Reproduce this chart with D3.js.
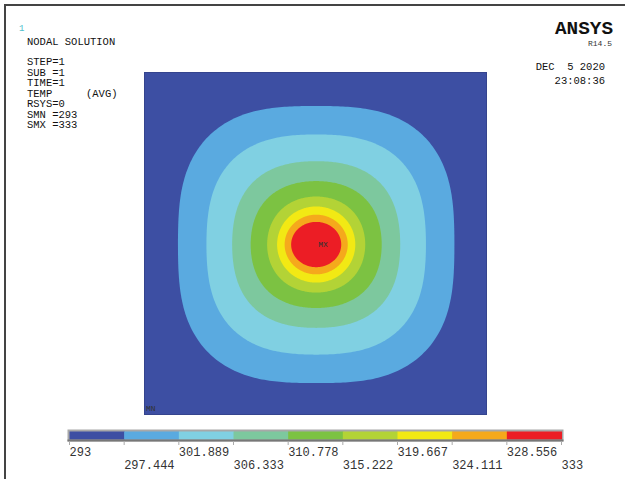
<!DOCTYPE html>
<html>
<head>
<meta charset="utf-8">
<script src="https://cdn.jsdelivr.net/npm/d3@7"></script>
<style>
  body { margin: 0; background: #fff; }
  text { font-family: "Liberation Mono", "DejaVu Sans Mono", monospace; }
</style>
</head>
<body>
<svg id="chart" width="625" height="479"></svg>
<script>
// contour levels (legend) and band colours
const levels = [293, 297.444, 301.889, 306.333, 310.778, 315.222, 319.667, 324.111, 328.556, 333];
const bandColors = ["#3d4fa3", "#5aaae0", "#80d0e2", "#7dc89e", "#7cc242", "#b3d336", "#f2e914", "#f5a91c", "#ec1d25"];

// contour shapes (plate units, plate side = 1)
// one entry per inner level 297.444 .. 328.556
const halfWidth  = [0.403, 0.320, 0.245, 0.191, 0.143, 0.114, 0.092, 0.073];
const halfHeight = [0.404, 0.321, 0.243, 0.185, 0.140, 0.111, 0.087, 0.066];
// distance along the diagonal / half width
const diagRatio  = [0.78, 0.765, 0.75, 0.735, 0.72, 0.71, 0.707, 0.707];
const source = { x: 0.502, y: 0.503 };

const infoLines = ["STEP=1", "SUB =1", "TIME=1", "TEMP", "RSYS=0", "SMN =293", "SMX =333"];

var svg = d3.select("#chart");
svg.append("rect").attr("width", 625).attr("height", 479).attr("fill", "#fff");

// frame
svg.append("line").attr("x1", 4).attr("x2", 625).attr("y1", 5).attr("y2", 5)
    .attr("stroke", "#444").attr("stroke-width", 2);
svg.append("line").attr("x1", 5).attr("x2", 5).attr("y1", 4).attr("y2", 479)
    .attr("stroke", "#444").attr("stroke-width", 2);

// plate
var x = d3.scaleLinear().domain([0, 1]).range([144, 487]);
var y = d3.scaleLinear().domain([0, 1]).range([72, 415]);

svg.append("rect")
    .attr("x", x(0)).attr("y", y(0))
    .attr("width", x(1) - x(0)).attr("height", y(1) - y(0))
    .attr("fill", bandColors[0]);

var line = d3.line()
    .x(function(d) { return x(d[0]); })
    .y(function(d) { return y(d[1]); })
    .curve(d3.curveLinearClosed);

// polar blend between the axis radius and the diagonal radius
function contourPoints(i) {
    var r45 = diagRatio[i] * Math.SQRT2;
    return d3.range(0, 360, 1).map(function(a) {
        var t = a * Math.PI / 180;
        var c4 = Math.cos(4 * t);
        var f = (1 + c4) / 2 + r45 * (1 - c4) / 2;
        return [
            source.x + halfWidth[i] * f * Math.cos(t),
            source.y + halfHeight[i] * f * Math.sin(t)
        ];
    });
}

svg.append("g").selectAll("path")
    .data(d3.range(halfWidth.length))
    .join("path")
    .attr("d", function(i) { return line(contourPoints(i)); })
    .attr("fill", function(i) { return bandColors[i + 1]; });

svg.append("rect")
    .attr("x", x(0) + 0.5).attr("y", y(0) + 0.5)
    .attr("width", x(1) - x(0) - 1).attr("height", y(1) - y(0) - 1)
    .attr("fill", "none").attr("stroke", "#2e3a78").attr("stroke-width", 1)
    .attr("stroke-dasharray", "1,1");

svg.append("text").attr("x", x(source.x) + 2).attr("y", y(source.y) + 2)
    .attr("font-family", "Liberation Serif").attr("font-size", 8).attr("fill", "#333")
    .text("MX");
svg.append("text").attr("x", x(0) + 2).attr("y", y(1) - 4)
    .attr("font-family", "Liberation Serif").attr("font-size", 8).attr("fill", "#333")
    .text("MN");

// info text
svg.append("text").attr("x", 19).attr("y", 31).attr("font-size", 9).attr("fill", "#4fc0cc").text("1");
svg.append("text").attr("x", 27).attr("y", 45).attr("font-size", 10.5).attr("fill", "#111").text("NODAL SOLUTION");
svg.append("g").selectAll("text")
    .data(infoLines)
    .join("text")
    .attr("x", 27)
    .attr("y", function(d, i) { return 65 + i * 10.5; })
    .attr("font-size", 10.5).attr("fill", "#111")
    .text(function(d) { return d; });
svg.append("text").attr("x", 86).attr("y", 96.5).attr("font-size", 10.5).attr("fill", "#111").text("(AVG)");

svg.append("text").attr("x", 613).attr("y", 34).attr("text-anchor", "end")
    .attr("font-family", "Liberation Sans").attr("font-weight", "bold").attr("font-size", 19)
    .attr("textLength", 58).attr("lengthAdjust", "spacingAndGlyphs").attr("fill", "#111")
    .text("ANSYS");
svg.append("text").attr("x", 612).attr("y", 46).attr("text-anchor", "end")
    .attr("font-family", "Liberation Serif").attr("font-size", 8).attr("fill", "#333")
    .text("R14.5");
svg.append("text").attr("x", 605).attr("y", 70).attr("text-anchor", "end")
    .attr("font-size", 10.5).attr("fill", "#111").attr("xml:space", "preserve").text("DEC  5 2020");
svg.append("text").attr("x", 605).attr("y", 84).attr("text-anchor", "end")
    .attr("font-size", 10.5).attr("fill", "#111").text("23:08:36");

// legend bar
var lx = d3.scaleLinear().domain([levels[0], levels[levels.length - 1]]).range([69.5, 561.5]);
var legend = svg.append("g");
legend.append("rect").attr("x", lx(293) - 2).attr("y", 429.5).attr("width", lx(333) - lx(293) + 4).attr("height", 12)
    .attr("fill", "#a8a8a8");
legend.selectAll("rect.seg")
    .data(d3.range(bandColors.length))
    .join("rect").attr("class", "seg")
    .attr("x", function(i) { return lx(levels[i]); })
    .attr("width", function(i) { return lx(levels[i + 1]) - lx(levels[i]) + 0.5; })
    .attr("y", 431.5).attr("height", 8)
    .attr("fill", function(i) { return bandColors[i]; });
legend.append("rect").attr("x", lx(293) - 2).attr("y", 439.5).attr("width", lx(333) - lx(293) + 4).attr("height", 2)
    .attr("fill", "#777");
legend.selectAll("line")
    .data(levels)
    .join("line")
    .attr("x1", function(d) { return lx(d); }).attr("x2", function(d) { return lx(d); })
    .attr("y1", 441).attr("y2", 445)
    .attr("stroke", "#aaa").attr("stroke-width", 1);
legend.selectAll("text")
    .data(levels)
    .join("text")
    .attr("x", function(d) { return lx(d); })
    .attr("y", function(d, i) { return i % 2 === 0 ? 456 : 469; })
    .attr("font-size", 12).attr("fill", "#333")
    .text(function(d) { return d; });
</script>
</body>
</html>
